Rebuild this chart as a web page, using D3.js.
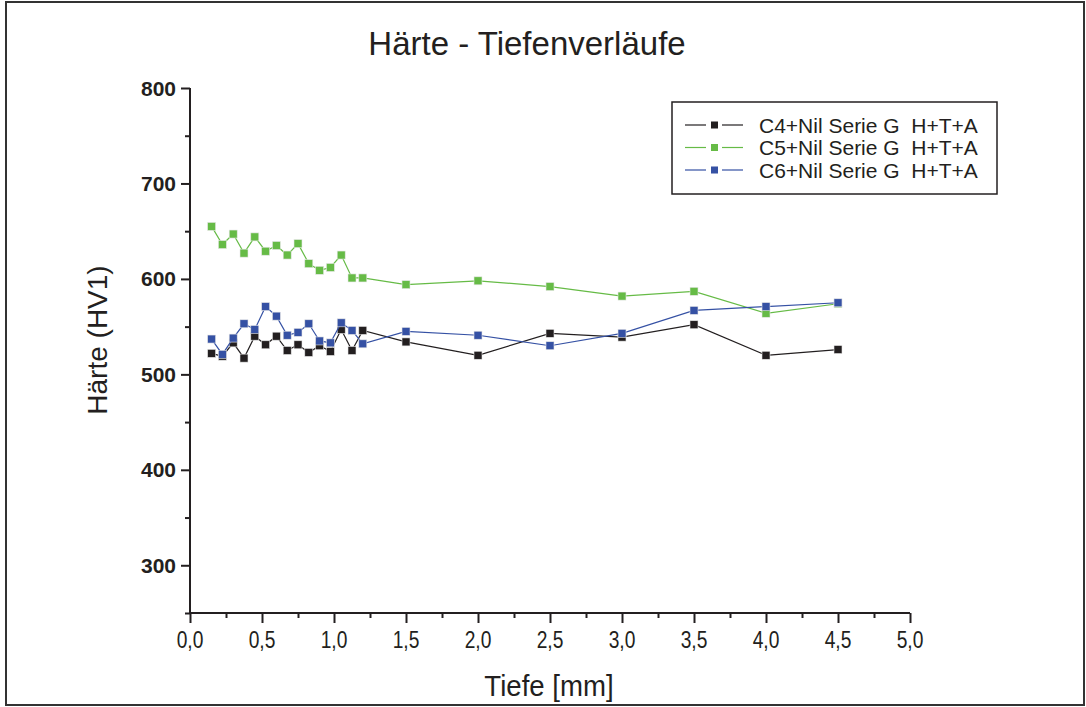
<!DOCTYPE html>
<html>
<head>
<meta charset="utf-8">
<script src="https://cdn.jsdelivr.net/npm/d3@7"></script>
<style>
  html, body { margin: 0; padding: 0; background: #fff; }
  svg { display: block; }
  text { font-family: "Liberation Sans", Arial, sans-serif; fill: #231f20; }
</style>
</head>
<body>
<svg id="chart" width="1086" height="707"></svg>
<script>
// Measurement depths (mm)
const depths = [0.15, 0.225, 0.3, 0.375, 0.45, 0.525, 0.6, 0.675, 0.75, 0.825, 0.9, 0.975, 1.05, 1.125, 1.2,
                1.5, 2.0, 2.5, 3.0, 3.5, 4.0, 4.5];

// Hardness HV1 per series
const c4Values = [522, 519, 533, 517, 540, 531, 540, 525, 531, 523, 530, 524, 547, 525, 546,
                  534, 520, 543, 539, 552, 520, 526];
const c5Values = [655, 636, 647, 627, 644, 629, 635, 625, 637, 616, 609, 612, 625, 601, 601,
                  594, 598, 592, 582, 587, 564, 574];
const c6Values = [537, 521, 538, 553, 547, 571, 561, 541, 544, 553, 535, 533, 554, 546, 532,
                  545, 541, 530, 543, 567, 571, 575];

const seriesNames = ["C4+Nil Serie G  H+T+A", "C5+Nil Serie G  H+T+A", "C6+Nil Serie G  H+T+A"];
const seriesColors = ["#231f20", "#66bb46", "#3551a4"];

const xTicks = [0, 0.5, 1, 1.5, 2, 2.5, 3, 3.5, 4, 4.5, 5];
const yTicks = [300, 400, 500, 600, 700, 800];

const titleText = "Härte - Tiefenverläufe";
const xTitle = "Tiefe [mm]";
const yTitle = "Härte (HV1)";

const svg = d3.select("#chart");

// outer frame
svg.append("rect")
  .attr("x", 6).attr("y", 2).attr("width", 1078).attr("height", 703)
  .attr("fill", "none").attr("stroke", "#333").attr("stroke-width", 2);

const x = d3.scaleLinear().domain([0, 5]).range([190, 910]);
const y = d3.scaleLinear().domain([250, 800]).range([613, 88]);

// y axis
const yAxis = svg.append("g").attr("transform", `translate(${x(0)},0)`);
yAxis.call(d3.axisLeft(y).tickValues(d3.range(250, 801, 50)).tickSize(9).tickFormat(""));
yAxis.selectAll(".tick line").attr("stroke", "#231f20").attr("stroke-width", 2)
  .attr("x2", d => (d % 100 === 0 ? -9 : -5));
yAxis.select(".domain").attr("stroke", "#231f20").attr("stroke-width", 2).attr("d", `M0,${y(250)}V${y(800)}`);
yAxis.selectAll(".ylab").data(yTicks).enter().append("text")
  .attr("class", "ylab")
  .attr("x", -14).attr("y", d => y(d)).attr("dy", "0.36em")
  .attr("text-anchor", "end")
  .style("font-size", "21px").style("font-weight", "bold")
  .text(d => d);

// x axis
const xAxis = svg.append("g").attr("transform", `translate(0,${y(250)})`);
xAxis.call(d3.axisBottom(x).tickValues(d3.range(0, 5.001, 0.25)).tickSize(9).tickFormat(""));
xAxis.selectAll(".tick line").attr("stroke", "#231f20").attr("stroke-width", 2)
  .attr("y2", d => (Math.abs(d * 2 - Math.round(d * 2)) < 1e-6 ? 10 : 5));
xAxis.select(".domain").attr("stroke", "#231f20").attr("stroke-width", 2).attr("d", `M${x(0)},0H${x(5)}`);
// condensed tick labels
xAxis.selectAll(".xlab").data(xTicks).enter().append("text")
  .attr("class", "xlab")
  .attr("transform", d => `translate(${x(d)},35) scale(0.8,1)`)
  .attr("text-anchor", "middle")
  .style("font-size", "24px")
  .text(d => d3.format(".1f")(d).replace(".", ","));

// titles
svg.append("text").attr("x", 527).attr("y", 55).attr("text-anchor", "middle")
  .style("font-size", "33px").text(titleText);
svg.append("text").attr("transform", "translate(549,696) scale(0.92,1)").attr("text-anchor", "middle")
  .style("font-size", "30px").text(xTitle);
svg.append("text").attr("transform", "translate(107,340) rotate(-90)").attr("text-anchor", "middle")
  .style("font-size", "28px").text(yTitle);

// series
const allSeries = [c4Values, c5Values, c6Values];
const line = d3.line().x(d => x(d[0])).y(d => y(d[1]));
allSeries.forEach((vals, i) => {
  const pts = depths.map((d, j) => [d, vals[j]]);
  const g = svg.append("g");
  g.append("path").datum(pts).attr("d", line)
    .attr("fill", "none").attr("stroke", seriesColors[i]).attr("stroke-width", 1.2);
  g.selectAll("rect").data(pts).enter().append("rect")
    .attr("x", d => x(d[0]) - 4).attr("y", d => y(d[1]) - 4)
    .attr("width", 8).attr("height", 8)
    .attr("fill", seriesColors[i])
    .attr("stroke", "#e6e6e6").attr("stroke-width", 0.6);
});

// legend
const legend = svg.append("g");
legend.append("rect").attr("x", 672).attr("y", 102).attr("width", 325).attr("height", 92)
  .attr("fill", "#fff").attr("stroke", "#231f20").attr("stroke-width", 1.5);
seriesNames.forEach((name, i) => {
  const ly = 125 + i * 22.5;
  legend.append("line").attr("x1", 685).attr("x2", 706).attr("y1", ly).attr("y2", ly)
    .attr("stroke", seriesColors[i]).attr("stroke-width", 1.2);
  legend.append("line").attr("x1", 722).attr("x2", 743).attr("y1", ly).attr("y2", ly)
    .attr("stroke", seriesColors[i]).attr("stroke-width", 1.2);
  legend.append("rect").attr("x", 711).attr("y", ly - 3.5).attr("width", 7).attr("height", 7)
    .attr("fill", seriesColors[i]);
  legend.append("text").attr("x", 759).attr("y", ly).attr("dy", "0.36em")
    .style("font-size", "21px").style("white-space", "pre").attr("xml:space", "preserve")
    .text(name);
});
</script>
</body>
</html>
